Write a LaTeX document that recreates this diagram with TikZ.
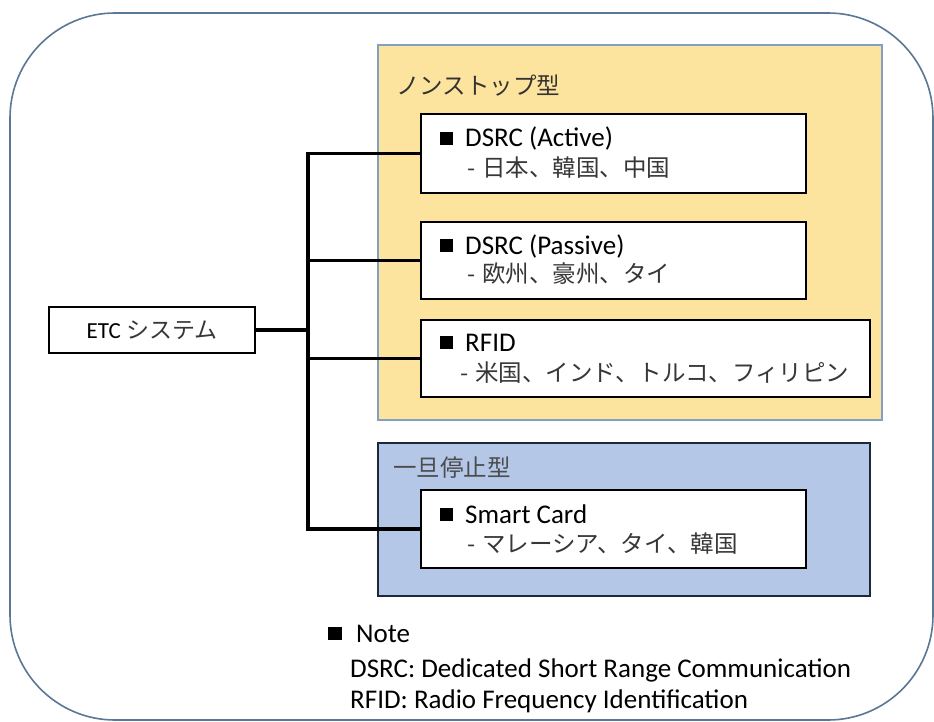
\documentclass[tikz,border=0pt]{standalone}
\usepackage{fontspec}
\setmainfont{Carlito}
\newfontfamily\jpfont{Noto Sans CJK JP}
\definecolor{outerline}{RGB}{90,120,150}
\definecolor{yelfill}{RGB}{253,228,158}
\definecolor{yelline}{RGB}{130,160,195}
\definecolor{bluefill}{RGB}{180,199,231}
\definecolor{blueline}{RGB}{30,40,60}
\definecolor{jpgray}{RGB}{55,55,55}
\newcommand{\sqbul}{\rule[2pt]{13pt}{13pt}\hspace{12pt}}
\newcommand{\jdash}{-\hspace{7pt}}
\tikzset{
  itembox/.style={draw=black, line width=2.6pt, fill=white, inner sep=0pt},
  latline/.style={anchor=base west, inner sep=0pt, font=\fontsize{27}{31}\selectfont, text=black},
  jpline/.style={anchor=base west, inner sep=0pt, font=\jpfont\fontsize{23.5}{28}\selectfont, text=jpgray},
  conn/.style={draw=black, line width=3.9pt},
}
\begin{document}
\begin{tikzpicture}[x=1pt, y=-1pt]
\useasboundingbox (0,0) rectangle (934,722);
\fill[white] (0,0) rectangle (934,722);
% outer frame
\draw[outerline, line width=1.6pt, rounded corners=105pt] (10,13) rectangle (933,720);
% group backgrounds
\node[draw=yelline, line width=1.5pt, fill=yelfill, minimum width=504pt, minimum height=375pt, inner sep=0pt] (nonstop) at (630,232.5) {};
\node[draw=blueline, line width=1.8pt, fill=bluefill, minimum width=492pt, minimum height=153pt, inner sep=0pt] (stopgo) at (624,519.5) {};
\node[jpline, text=black!80] (nonstoplbl) at (396,95) {ノンストップ型};
\node[jpline, text=black!70] (stoplbl) at (393,476) {一旦停止型};
% item boxes
\node[itembox, minimum width=385pt, minimum height=79pt] (box1) at (613.5,153.5) {};
\node[itembox, minimum width=385pt, minimum height=77pt] (box2) at (613.5,260.5) {};
\node[itembox, minimum width=449pt, minimum height=77pt] (box3) at (645.5,358.5) {};
\node[itembox, minimum width=385pt, minimum height=78pt] (box4) at (613.5,529) {};
\node[draw=black, line width=2.6pt, fill=white, minimum width=206pt, minimum height=46pt, inner sep=0pt, font=\fontsize{23}{27}\selectfont] (etc) at (152,330) {ETC {\jpfont\fontsize{23}{27}\selectfont\color{jpgray}システム}};
% item texts
\node[latline] (t1a) at (440,147) {\sqbul DSRC (Active)};
\node[jpline] (t1b) at (467,177) {\jdash 日本、韓国、中国};
\node[latline] (t2a) at (440,254) {\sqbul DSRC (Passive)};
\node[jpline] (t2b) at (467,282) {\jdash 欧州、豪州、タイ};
\node[latline] (t3a) at (440,351) {\sqbul RFID};
\node[jpline] (t3b) at (460,381) {\jdash 米国、インド、トルコ、フィリピン};
\node[latline] (t4a) at (440,523) {\sqbul Smart Card};
\node[jpline] (t4b) at (467,552) {\jdash マレーシア、タイ、韓国};
% connectors
\coordinate (trunktop) at (308,153.5);
\coordinate (trunkbot) at (308,529);
\draw[conn] (box1.west) -- (trunktop) -- (trunkbot) -- (box4.west);
\draw[conn] (etc.east) -- (etc.east -| trunktop);
\draw[conn] (box2.west) -- (box2.west -| trunktop);
\draw[conn] (box3.west) -- (box3.west -| trunktop);
% note
\node[latline] (note) at (328,642) {\rule[2pt]{14pt}{13pt}\hspace{14pt}Note};
\node[latline] (note1) at (350,677) {DSRC: Dedicated Short Range Communication};
\node[latline] (note2) at (350,708) {RFID: Radio Frequency Identification};
\end{tikzpicture}
\end{document}
